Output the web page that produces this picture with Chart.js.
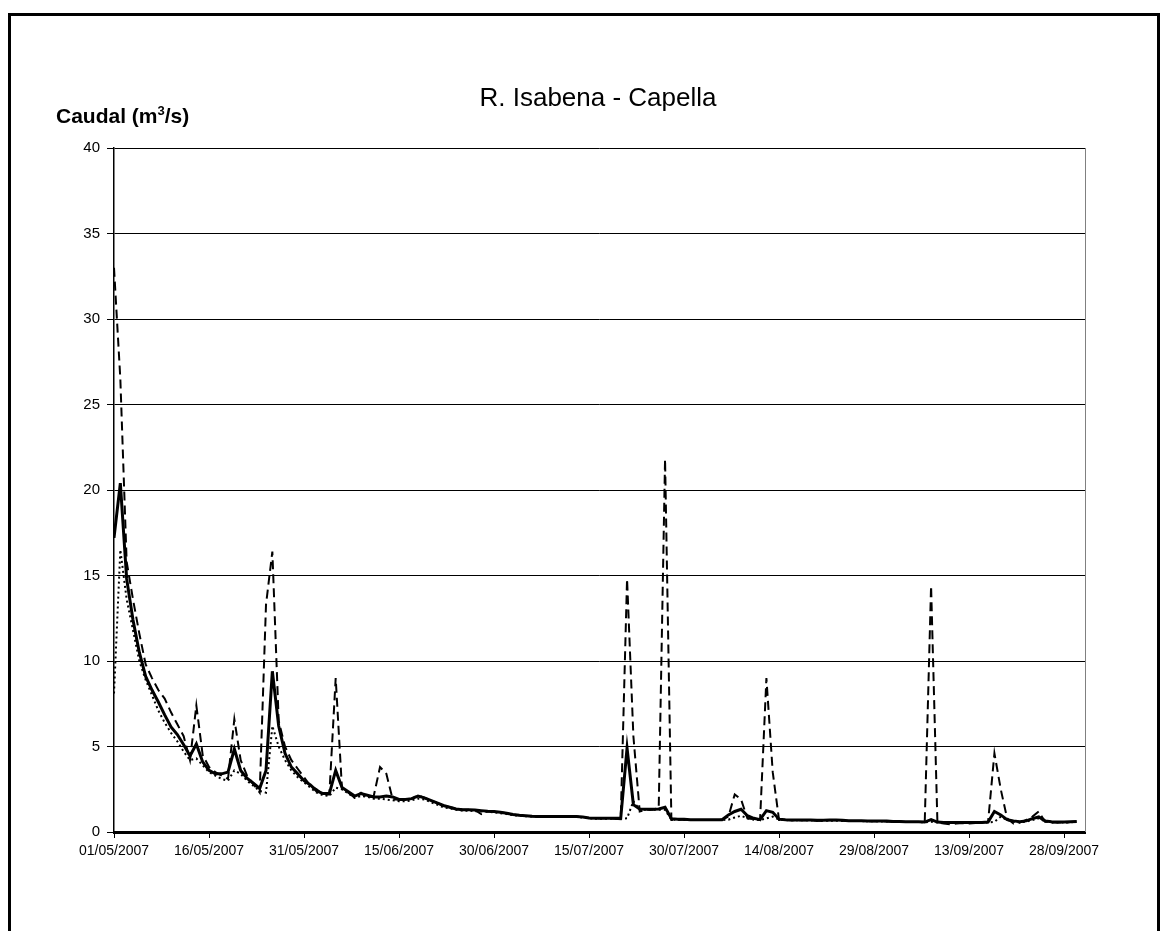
<!DOCTYPE html>
<html lang="es">
<head>
<meta charset="UTF-8">
<title>R. Isabena - Capella</title>
<style>
    body {
        margin: 0;
        background: #fff;
        font-family: 'Liberation Sans', Arial, sans-serif;
        overflow: hidden;
    }
    .frame {
        position: absolute;
        left: 8px;
        top: 13px;
        width: 1146px;
        height: 1000px;
        border: 3px solid #000;
    }
    .title {
        position: absolute;
        left: 398px;
        width: 400px;
        top: 80px;
        text-align: center;
        font-size: 26px;
        line-height: 34px;
        color: #000;
    }
    .ylabel {
        position: absolute;
        left: 56px;
        top: 98px;
        font-size: 21px;
        font-weight: bold;
        line-height: 26px;
        color: #000;
    }
    .ylabel sup {
        font-size: 13px;
    }
    canvas {
        position: absolute;
        left: 0;
        top: 0;
    }
</style>
<script src="https://cdn.jsdelivr.net/npm/chart.js"></script>
</head>
<body>
<div class="frame"></div>
<canvas id="flowChart" width="1161" height="931"></canvas>
<div class="title">R. Isabena - Capella</div>
<div class="ylabel">Caudal (m<sup>3</sup>/s)</div>

<script>
    // caudal diario desde 01/05/2007 (dia 0) hasta 30/09/2007 (dia 152)
    const meanFlow = [
        17.2, 20.4, 14.8, 12.4, 10.5, 9.1, 8.3, 7.6, 6.85, 6.15,
        5.7, 5.1, 4.45, 5.15, 4.1, 3.6, 3.4, 3.4, 3.5, 4.85,
        3.6, 3.15, 2.85, 2.55, 3.6, 9.4, 6.2, 4.6, 3.8, 3.4,
        3.0, 2.75, 2.4, 2.25, 2.25, 3.6, 2.6, 2.35, 2.1, 2.25,
        2.15, 2.05, 2.05, 2.1, 2.05, 1.9, 1.9, 1.95, 2.1, 2.0,
        1.85, 1.7, 1.55, 1.45, 1.35, 1.3, 1.3, 1.28, 1.25, 1.22,
        1.2, 1.15, 1.1, 1.02, 0.98, 0.95, 0.92, 0.9, 0.9, 0.9,
        0.9, 0.9, 0.9, 0.9, 0.88, 0.82, 0.8, 0.8, 0.8, 0.8,
        0.8, 4.9, 1.6, 1.35, 1.33, 1.33, 1.35, 1.45, 0.78, 0.75,
        0.75, 0.72, 0.72, 0.72, 0.72, 0.72, 0.72, 1.0, 1.2, 1.33,
        0.95, 0.8, 0.72, 1.25, 1.15, 0.75, 0.72, 0.7, 0.7, 0.7,
        0.7, 0.68, 0.68, 0.7, 0.7, 0.68, 0.66, 0.66, 0.66, 0.65,
        0.65, 0.65, 0.64, 0.62, 0.62, 0.6, 0.6, 0.6, 0.58, 0.72,
        0.58, 0.56, 0.56, 0.55, 0.56, 0.55, 0.56, 0.56, 0.58, 1.2,
        1.0, 0.72, 0.65, 0.6, 0.65, 0.78, 0.88, 0.65, 0.6, 0.58,
        0.58, 0.6, 0.62
    ];

    const maxFlow = [
        33.0, 26.5, 15.8, 13.6, 11.6, 9.8, 9.0, 8.3, 7.8, 7.0,
        6.3, 5.6, 4.2, 7.4, 4.5, 3.8, 3.5, 3.3, 3.1, 6.6,
        4.2, 3.3, 2.8, 2.3, 13.3, 16.4, 6.5, 5.0, 4.2, 3.7,
        3.2, 2.7, 2.5, 2.2, 2.2, 9.0, 2.5, 2.3, 2.0, 2.3,
        2.0, 2.1, 3.8, 3.4, 1.9, 1.9, 1.9, 1.95, 2.15, 2.0,
        1.85, 1.7, 1.55, 1.45, 1.38, 1.32, 1.3, 1.28, 1.05, 1.22,
        1.2, 1.15, 1.1, 1.02, 0.98, 0.95, 0.92, 0.9, 0.9, 0.9,
        0.9, 0.9, 0.9, 0.9, 0.88, 0.82, 0.8, 0.8, 0.8, 0.78,
        0.75, 14.8, 5.6, 1.2, 1.3, 1.3, 1.4, 21.8, 0.7, 0.72,
        0.72, 0.7, 0.7, 0.7, 0.7, 0.7, 0.72, 0.9, 2.2, 1.9,
        0.8, 0.75, 0.7, 9.0, 3.5, 0.7, 0.7, 0.68, 0.68, 0.68,
        0.68, 0.66, 0.66, 0.68, 0.68, 0.66, 0.64, 0.64, 0.64, 0.63,
        0.63, 0.63, 0.62, 0.6, 0.6, 0.58, 0.58, 0.58, 0.6, 14.4,
        0.55, 0.5, 0.45, 0.5, 0.52, 0.5, 0.52, 0.54, 0.6, 4.6,
        2.5, 0.8, 0.5, 0.55, 0.7, 0.9, 1.2, 0.6, 0.55, 0.55,
        0.55, 0.58, 0.6
    ];

    const minFlow = [
        8.1, 16.5, 13.6, 11.8, 10.0, 8.9, 8.0, 7.1, 6.4, 5.8,
        5.3, 4.7, 4.2, 4.3, 3.9, 3.5, 3.3, 3.1, 3.0, 3.6,
        3.4, 3.0, 2.7, 2.4, 2.3, 6.2, 5.0, 4.2, 3.6, 3.2,
        2.9, 2.6, 2.3, 2.15, 2.1, 2.6, 2.5, 2.25, 2.0, 2.1,
        2.05, 1.95, 1.95, 1.9, 1.85, 1.8, 1.8, 1.85, 1.95, 1.9,
        1.75, 1.6, 1.45, 1.38, 1.3, 1.25, 1.25, 1.22, 1.2, 1.18,
        1.15, 1.1, 1.05, 0.98, 0.95, 0.92, 0.9, 0.88, 0.88, 0.88,
        0.88, 0.88, 0.88, 0.88, 0.85, 0.8, 0.78, 0.78, 0.78, 0.78,
        0.78, 0.8, 1.8, 1.3, 1.3, 1.3, 1.3, 1.3, 0.72, 0.72,
        0.7, 0.7, 0.7, 0.7, 0.7, 0.7, 0.7, 0.72, 0.85, 0.95,
        0.8, 0.72, 0.7, 0.8, 0.9, 0.72, 0.7, 0.68, 0.68, 0.68,
        0.68, 0.66, 0.66, 0.66, 0.66, 0.65, 0.64, 0.64, 0.64, 0.63,
        0.63, 0.62, 0.62, 0.6, 0.6, 0.58, 0.58, 0.58, 0.56, 0.6,
        0.55, 0.54, 0.54, 0.53, 0.54, 0.53, 0.54, 0.54, 0.55, 0.6,
        0.9, 0.7, 0.6, 0.56, 0.6, 0.7, 0.8, 0.62, 0.56, 0.55,
        0.55, 0.57, 0.6
    ];

    const tickDays = [0, 15, 30, 45, 60, 75, 90, 105, 120, 135, 150];
    const tickLabels = ['01/05/2007', '16/05/2007', '31/05/2007', '15/06/2007', '30/06/2007',
        '15/07/2007', '30/07/2007', '14/08/2007', '29/08/2007', '13/09/2007', '28/09/2007'];

    const toPoints = arr => arr.map((v, i) => ({ x: i, y: v }));

    // borde gris a la derecha del area de trazado
    const plotBorder = {
        id: 'plotBorder',
        afterDraw(chart) {
            const { ctx, chartArea } = chart;
            ctx.save();
            ctx.strokeStyle = '#808080';
            ctx.lineWidth = 1;
            ctx.beginPath();
            ctx.moveTo(chartArea.right + 0.5, chartArea.top);
            ctx.lineTo(chartArea.right + 0.5, chartArea.bottom);
            ctx.stroke();
            ctx.restore();
        }
    };

    Chart.defaults.font.family = "'Liberation Sans', Arial, sans-serif";
    Chart.defaults.color = '#000';

    new Chart(document.getElementById('flowChart'), {
        type: 'line',
        data: {
            datasets: [
                {
                    label: 'Medio',
                    data: toPoints(meanFlow),
                    borderColor: '#000',
                    borderWidth: 3,
                    pointRadius: 0,
                    tension: 0,
                    order: 0
                },
                {
                    label: 'Máximo',
                    data: toPoints(maxFlow),
                    borderColor: '#000',
                    borderWidth: 2,
                    borderDash: [9, 5],
                    pointRadius: 0,
                    tension: 0,
                    order: 1
                },
                {
                    label: 'Mínimo',
                    data: toPoints(minFlow),
                    borderColor: '#000',
                    borderWidth: 2,
                    borderDash: [2, 3],
                    pointRadius: 0,
                    tension: 0,
                    order: 2
                }
            ]
        },
        options: {
            responsive: false,
            animation: false,
            layout: { padding: { left: 0, top: 148, right: 76, bottom: 0 } },
            plugins: {
                legend: { display: false },
                tooltip: { enabled: false },
                title: { display: false }
            },
            scales: {
                x: {
                    type: 'linear',
                    min: 0,
                    max: 153.3,
                    afterBuildTicks: scale => {
                        scale.ticks = tickDays.map(v => ({ value: v }));
                    },
                    afterFit: scale => { scale.height = 99; },
                    ticks: {
                        autoSkip: false,
                        maxRotation: 0,
                        padding: 5,
                        font: { size: 14 },
                        callback: v => tickLabels[tickDays.indexOf(v)]
                    },
                    grid: {
                        drawOnChartArea: false,
                        drawTicks: true,
                        tickLength: 6,
                        color: '#000'
                    },
                    border: { color: '#000', width: 3 }
                },
                y: {
                    min: 0,
                    max: 40,
                    afterFit: scale => { scale.width = 114; },
                    ticks: {
                        stepSize: 5,
                        padding: 7,
                        font: { size: 15 }
                    },
                    grid: {
                        color: '#000',
                        lineWidth: 1,
                        tickLength: 7
                    },
                    border: { color: '#000', width: 1.5 }
                }
            }
        },
        plugins: [plotBorder]
    });
</script>
</body>
</html>
